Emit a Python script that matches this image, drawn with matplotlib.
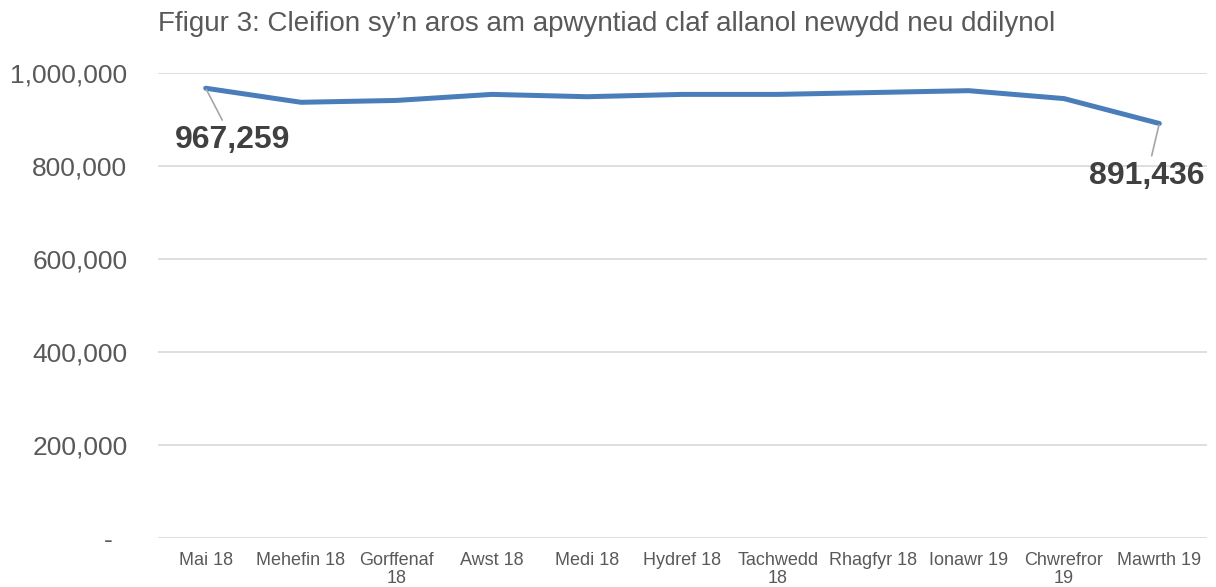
import matplotlib
matplotlib.use("Agg")
import matplotlib.pyplot as plt
from matplotlib.ticker import FuncFormatter

plt.rcParams['font.family'] = ['Liberation Sans', 'DejaVu Sans']

months = ["Mai 18", "Mehefin 18", "Gorffenaf\n18", "Awst 18", "Medi 18", "Hydref 18",
          "Tachwedd\n18", "Rhagfyr 18", "Ionawr 19", "Chwrefror\n19", "Mawrth 19"]
patients = [967259, 937000, 941000, 954000, 949000, 954000, 954000, 958000, 962000, 945000, 891436]
title = "Ffigur 3: Cleifion sy\u2019n aros am apwyntiad claf allanol newydd neu ddilynol"
yticks = [0, 200000, 400000, 600000, 800000, 1000000]

fig = plt.figure(figsize=(12.16, 5.87), dpi=100)
ax = fig.add_axes([158/1216, 1-538/587, (1207-158)/1216, (538-73)/587])

x = list(range(len(months)))
ax.plot(x, patients, color="#4A7EBB", lw=3.6, solid_capstyle='round', zorder=3)

ax.set_xlim(-0.5, len(months)-0.5)
ax.set_ylim(0, 1000000)
ax.set_yticks(yticks)
ax.yaxis.set_major_formatter(FuncFormatter(lambda v, p: "-  " if v == 0 else f"{int(v):,}"))
ax.set_xticks(x)
ax.set_xticklabels(months, fontsize=13, color="#595959", linespacing=1.05, va='top')
ax.tick_params(axis='y', length=0, pad=22, labelsize=19, labelcolor="#595959")
ax.tick_params(axis='x', length=0, pad=10)
ax.grid(axis='y', color="#D9D9D9", lw=1.2)
ax.set_axisbelow(True)
for s in ax.spines.values():
    s.set_visible(False)

# data labels for first and last points
ax.annotate(f"{patients[0]:,}", xy=(x[0], patients[0]), xytext=(19.5, -37.5),
            textcoords='offset points', ha='center', va='center', fontsize=23,
            fontweight='bold', color="#404040",
            arrowprops=dict(arrowstyle='-', color="#A6A6A6", lw=1.2, shrinkA=2, shrinkB=1))
ax.annotate(f"{patients[-1]:,}", xy=(x[-1], patients[-1]), xytext=(-9, -38),
            textcoords='offset points', ha='center', va='center', fontsize=23,
            fontweight='bold', color="#404040",
            arrowprops=dict(arrowstyle='-', color="#A6A6A6", lw=1.2, shrinkA=2, shrinkB=1))

fig.text(158/1216, 1-24/587, title, fontsize=20, color="#595959", ha='left', va='center')

fig.savefig("out.png", dpi=100, facecolor="white")
